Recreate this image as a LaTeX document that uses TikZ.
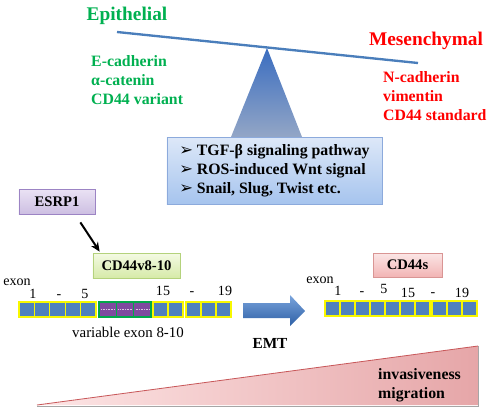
\documentclass[tikz,border=0pt]{standalone}
\usepackage{fontspec}
\setmainfont{Liberation Serif}
\newfontfamily\bulletfont{DejaVu Sans}
\usetikzlibrary{arrows.meta,shadows}

\definecolor{epigreen}{HTML}{00B050}
\definecolor{mesred}{HTML}{FF0000}
\definecolor{beamblue}{HTML}{4A7EBB}
\definecolor{pivottop}{HTML}{3A6DC0}
\definecolor{pivotbot}{HTML}{93A6C6}
\definecolor{listtop}{HTML}{DDE8F8}
\definecolor{listbot}{HTML}{A6C4EE}
\definecolor{listedge}{HTML}{8CAADC}
\definecolor{esrptop}{HTML}{EAE2F4}
\definecolor{esrpbot}{HTML}{CDBFE2}
\definecolor{esrpedge}{HTML}{9C84C4}
\definecolor{vtop}{HTML}{F4FAE4}
\definecolor{vbot}{HTML}{D6EAA8}
\definecolor{vedge}{HTML}{B4D27C}
\definecolor{stop}{HTML}{FBE6E6}
\definecolor{sbot}{HTML}{F2B4B4}
\definecolor{sedge}{HTML}{D99594}
\definecolor{exonblue}{HTML}{4F81BD}
\definecolor{exonyellow}{HTML}{F8F800}
\definecolor{vargreen}{HTML}{00A84A}
\definecolor{varpurple}{HTML}{7E4A9F}
\definecolor{emtlight}{HTML}{7AA4DC}
\definecolor{emtdark}{HTML}{2E60A6}
\definecolor{wedgeleft}{HTML}{FDE6E6}
\definecolor{wedgemid}{HTML}{FAC6C8}
\definecolor{wedgeright}{HTML}{E6A6A8}
\definecolor{wedgeedge}{HTML}{C8585A}

\newcommand{\drvbullet}{\makebox[15pt][l]{\bulletfont\fontsize{14}{14}\selectfont ➢}}

\tikzset{
  side/.style={font=\fontsize{16.5}{19}\selectfont\bfseries},
  markers/.style={font=\fontsize{13.5}{16.2}\selectfont\bfseries, align=left, anchor=base west, inner sep=0pt},
  genebox/.style={draw, line width=0.6pt, font=\fontsize{12.5}{15}\selectfont\bfseries,
    minimum height=0.75cm, drop shadow={shadow xshift=1pt, shadow yshift=-1pt, opacity=0.25}},
  exonlbl/.style={font=\fontsize{12}{14}\selectfont, anchor=base, inner sep=0pt},
  exon/.style={draw=exonyellow, fill=exonblue, line width=1pt},
  varexon/.style={draw=vargreen, fill=varpurple, line width=0.8pt}
}

\begin{document}
\begin{tikzpicture}[x=0.03cm,y=-0.03cm]
\useasboundingbox (0,0) rectangle (500,413);

% balance
\shade[top color=pivottop, bottom color=pivotbot] (267,48) -- (302,137) -- (231,137) -- cycle;
\draw[beamblue, line width=2pt] (117,32) -- (418,63);
\node[side, text=epigreen, anchor=base] (epi) at (127,20) {Epithelial};
\node[side, text=mesred, anchor=base] (mes) at (426,45) {Mesenchymal};
% base of a multi-line node = last line
\node[markers, text=epigreen] (epimark) at (91,104) {E-cadherin\\α-catenin\\CD44 variant};
\node[markers, text=mesred] (mesmark) at (383,120) {N-cadherin\\vimentin\\CD44 standard};

% drivers
\node[draw=listedge, line width=0.6pt, top color=listtop, bottom color=listbot,
      drop shadow={shadow xshift=1pt, shadow yshift=-1pt, opacity=0.25},
      minimum width=6.45cm, minimum height=2.01cm, align=left,
      font=\fontsize{13.5}{16.2}\selectfont\bfseries] (drivers) at (274.5,170.5)
  {\drvbullet TGF-β signaling pathway\\
   \drvbullet ROS-induced Wnt signal\\
   \drvbullet Snail, Slug, Twist etc.};

% splicing
\node[genebox, draw=esrpedge, top color=esrptop, bottom color=esrpbot, minimum width=2.28cm] (esrp) at (57,201.5) {ESRP1};
\node[genebox, draw=vedge, top color=vtop, bottom color=vbot, minimum width=2.61cm] (cdv) at (136.5,265.5) {CD44v8-10};
\node[genebox, draw=sedge, top color=stop, bottom color=sbot, minimum width=2.07cm, minimum height=0.72cm] (cds) at (407.5,265) {CD44s};
\draw[line width=1.7pt, -{Stealth[length=8pt,width=7pt]}] ([shift={(-15,8)}]esrp.south east) -- ([shift={(7,-1)}]cdv.north west);

% exons of CD44v8-10
\node[exonlbl] (exonv) at (17,285) {exon};
\foreach \xpos/\ypos/\txt [count=\k] in {33/298/1, 59/298/-, 85/298/5, 163/295/15, 192/295/-, 225/295/19}
  \node[exonlbl] (numv\k) at (\xpos,\ypos) {\txt};
\foreach \i in {0,...,4}
  \draw[exon] ({19+15.4*\i},302) rectangle ++(15.4,15);
\foreach \i in {0,1,2} {
  \draw[varexon] ({99+17.33*\i},302) rectangle ++(17.33,15);
  \draw[white!70!varpurple, densely dotted, line width=0.4pt] ({101+17.33*\i},309.5) -- ++(13.3,0);
}
\draw[vargreen, line width=1.8pt] (99,302) rectangle (151,317);
\foreach \i in {0,1}
  \draw[exon] ({153+15*\i},302) rectangle ++(15,15);
\foreach \i in {0,1,2}
  \draw[exon] ({186+15*\i},302) rectangle ++(15,15);
\node[font=\fontsize{12.7}{15}\selectfont, anchor=base] (varlbl) at (128,337) {variable exon 8-10};

% EMT
\shade[top color=emtlight, bottom color=emtdark] (243,303) -- (290,303) -- (290,295) -- (305,311)
  -- (290,326) -- (290,318) -- (243,318) -- cycle;
\node[font=\fontsize{13.1}{15}\selectfont\bfseries, anchor=base] (emt) at (270,348) {EMT};

% exons of CD44s
\node[exonlbl] (exons) at (320,283) {exon};
\foreach \xpos/\ypos/\txt [count=\k] in {338/295/1, 362/295/-, 384/293/5, 408/297/15, 433/296/-, 462/297/19}
  \node[exonlbl] (nums\k) at (\xpos,\ypos) {\txt};
\foreach \i in {0,...,6}
  \draw[exon] ({325+15*\i},301) rectangle ++(15,15);
\foreach \i in {0,1,2}
  \draw[exon] ({432+15*\i},301) rectangle ++(15,15);

% invasiveness wedge
\shade[left color=wedgeleft, middle color=wedgemid, right color=wedgeright] (37,405) -- (478,346) -- (478,405) -- cycle;
\draw[black!35, line width=0.8pt] (37,406) -- (478,406) -- (478,346);
\draw[wedgeedge, line width=0.7pt] (37,405) -- (478,346);
\node[markers, text=black, font=\fontsize{13.5}{15.4}\selectfont\bfseries] (inv) at (378,398) {invasiveness\\migration};

\end{tikzpicture}
\end{document}
